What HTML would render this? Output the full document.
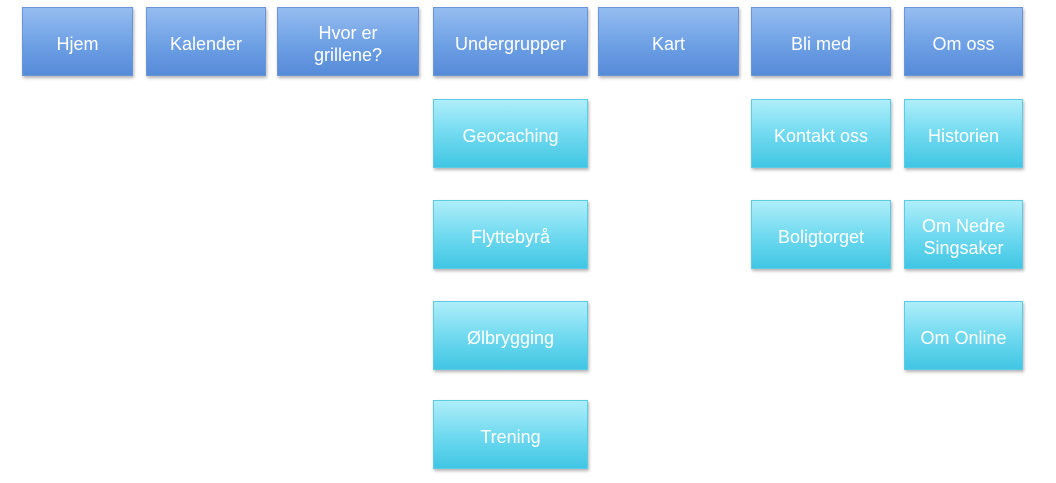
<!DOCTYPE html><html><head><style>
body{margin:0;width:1056px;height:483px;background:#fff;position:relative;overflow:hidden;font-family:"Liberation Sans",sans-serif}
.b{position:absolute;display:flex;align-items:center;justify-content:center;text-align:center;color:#fff;font-size:18px;line-height:22px;padding-top:5px;box-shadow:1px 2px 3px rgba(0,0,0,.3);box-sizing:border-box}
.t{background:linear-gradient(#95bdf0,#6a9de3 60%,#568bd8);border:1px solid #6a95d8}
.c{background:linear-gradient(#aeeefa,#72daf0 50%,#40c6e4);border:1px solid #5ccbe6}
</style></head><body>
<div class="b t" style="left:22px;top:7px;width:111px;height:69px">Hjem</div>
<div class="b t" style="left:146px;top:7px;width:120px;height:69px">Kalender</div>
<div class="b t" style="left:277px;top:7px;width:142px;height:69px">Hvor er<br>grillene?</div>
<div class="b t" style="left:433px;top:7px;width:155px;height:69px">Undergrupper</div>
<div class="b t" style="left:598px;top:7px;width:141px;height:69px">Kart</div>
<div class="b t" style="left:751px;top:7px;width:140px;height:69px">Bli med</div>
<div class="b t" style="left:904px;top:7px;width:119px;height:69px">Om oss</div>
<div class="b c" style="left:433px;top:99px;width:155px;height:69px">Geocaching</div>
<div class="b c" style="left:433px;top:200px;width:155px;height:69px">Flyttebyrå</div>
<div class="b c" style="left:433px;top:301px;width:155px;height:69px">Ølbrygging</div>
<div class="b c" style="left:433px;top:400px;width:155px;height:69px">Trening</div>
<div class="b c" style="left:751px;top:99px;width:140px;height:69px">Kontakt oss</div>
<div class="b c" style="left:751px;top:200px;width:140px;height:69px">Boligtorget</div>
<div class="b c" style="left:904px;top:99px;width:119px;height:69px">Historien</div>
<div class="b c" style="left:904px;top:200px;width:119px;height:69px">Om Nedre<br>Singsaker</div>
<div class="b c" style="left:904px;top:301px;width:119px;height:69px">Om Online</div>
</body></html>
